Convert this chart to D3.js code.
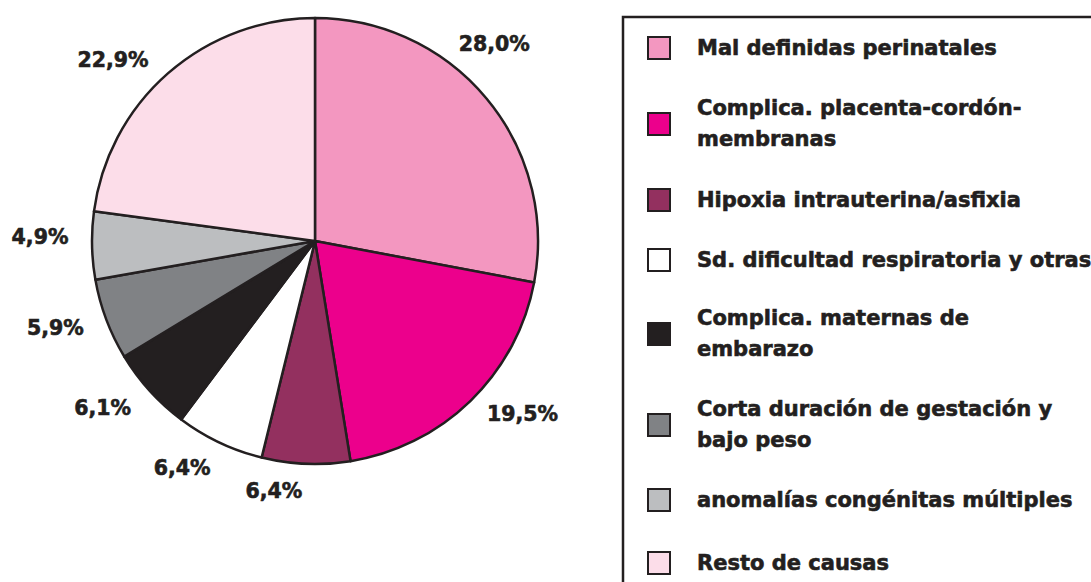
<!DOCTYPE html>
<html>
<head>
<meta charset="utf-8">
<script src="https://cdn.jsdelivr.net/npm/d3@7"></script>
<style>
  body { margin: 0; background: #fff; }
  text { font-family: "DejaVu Sans", sans-serif; font-weight: bold; fill: #231f20; stroke: #231f20; stroke-width: 0.6px; }
</style>
</head>
<body>
<svg id="chart" width="1091" height="582"></svg>
<script>
// slices, clockwise from 12 o'clock
const categories = [
  "Mal definidas perinatales",
  "Complica. placenta-cordón-membranas",
  "Hipoxia intrauterina/asfixia",
  "Sd. dificultad respiratoria y otras",
  "Complica. maternas de embarazo",
  "Corta duración de gestación y bajo peso",
  "anomalías congénitas múltiples",
  "Resto de causas"
];
const values = [28.0, 19.5, 6.4, 6.4, 6.1, 5.9, 4.9, 22.9];
const valueLabels = ["28,0%", "19,5%", "6,4%", "6,4%", "6,1%", "5,9%", "4,9%", "22,9%"];
// legend text as it wraps in the picture
const legendLines = [
  ["Mal definidas perinatales"],
  ["Complica. placenta-cordón-", "membranas"],
  ["Hipoxia intrauterina/asfixia"],
  ["Sd. dificultad respiratoria y otras"],
  ["Complica. maternas de", "embarazo"],
  ["Corta duración de gestación y", "bajo peso"],
  ["anomalías congénitas múltiples"],
  ["Resto de causas"]
];
const colors = ["#f397c0", "#ec008c", "#93305f", "#ffffff", "#231f20", "#808285", "#bcbec0", "#fcdde9"];

const svg = d3.select("#chart");
const ink = "#231f20";
const cx = 315, cy = 241, r = 223;

const pie = d3.pie().sort(null).value(d => d)(values);
const arc = d3.arc().innerRadius(0).outerRadius(r);

const g = svg.append("g").attr("transform", `translate(${cx},${cy})`);
g.selectAll("path.slice")
  .data(pie)
  .join("path")
  .attr("class", "slice")
  .attr("d", arc)
  .attr("fill", (d, i) => colors[i])
  .attr("stroke", ink)
  .attr("stroke-width", 2.5)
  .attr("stroke-linejoin", "round");

// labels sit outside the rim, nudged a bit like the original
const shiftDeg = [-8, -6, 7, 5, 4, 2, 2, -7];
const shiftR = [-2, 2, -15, -5, 2, 6, 7, 3];
const labelPos = (d, i) => {
  const a = (d.startAngle + d.endAngle) / 2 + shiftDeg[i] * Math.PI / 180;
  const rr = 268 + shiftR[i];
  return [rr * Math.sin(a), -rr * Math.cos(a)];
};
g.selectAll("text.lbl")
  .data(pie)
  .join("text")
  .attr("class", "lbl")
  .attr("font-size", 20.5)
  .attr("text-anchor", "middle")
  .attr("dominant-baseline", "central")
  .attr("x", (d, i) => labelPos(d, i)[0])
  .attr("y", (d, i) => labelPos(d, i)[1])
  .text((d, i) => valueLabels[i]);

// legend
svg.append("rect")
  .attr("x", 623).attr("y", 17)
  .attr("width", 700).attr("height", 700)
  .attr("fill", "none").attr("stroke", ink).attr("stroke-width", 2.5);

const rowCenters = [48, 124, 200, 260, 334, 425, 500, 563];
const lineGap = 31;

const items = svg.selectAll("g.item")
  .data(categories)
  .join("g")
  .attr("class", "item")
  .attr("transform", (d, i) => `translate(0,${rowCenters[i]})`);

items.append("rect")
  .attr("x", 648).attr("y", -11)
  .attr("width", 22).attr("height", 22)
  .attr("fill", (d, i) => colors[i])
  .attr("stroke", ink).attr("stroke-width", 2);

items.each(function(d, i) {
  const lines = legendLines[i];
  const top = -(lines.length - 1) * lineGap / 2 - (lines.length > 1 ? 1 : 0);
  d3.select(this).selectAll("text")
    .data(lines)
    .join("text")
    .attr("x", 697)
    .attr("y", (t, j) => top + j * lineGap)
    .attr("dominant-baseline", "central")
    .attr("font-size", 21)
    .text(t => t);
});
</script>
</body>
</html>
